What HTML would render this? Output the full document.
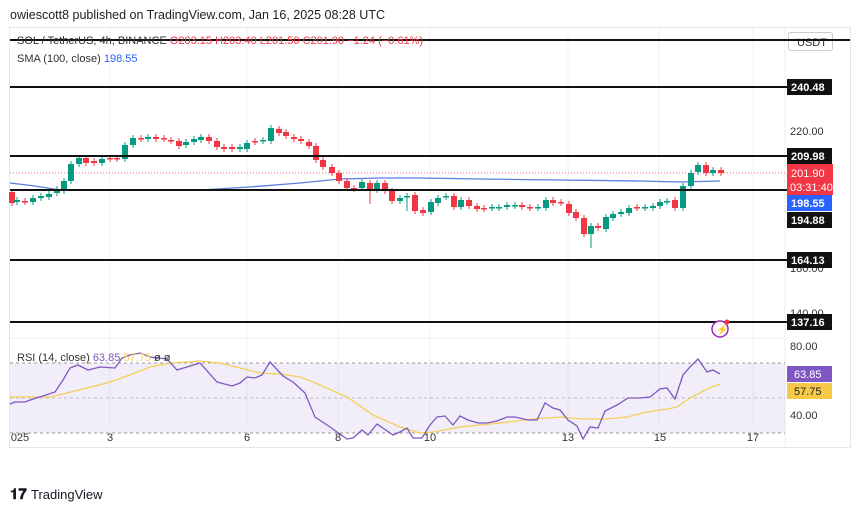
<!DOCTYPE html>
<html><head><meta charset="utf-8"><style>
body{margin:0;width:860px;height:510px;background:#fff;overflow:hidden;font-family:"Liberation Sans",sans-serif}
svg text{font-family:"Liberation Sans",sans-serif}
</style></head><body>
<svg id="s" width="860" height="510" xmlns="http://www.w3.org/2000/svg">
<rect width="860" height="510" fill="#fff"/>
<text x="10" y="19" font-size="12.5" fill="#222">owiescott8 published on TradingView.com, Jan 16, 2025 08:28 UTC</text>
<rect x="9.5" y="27.5" width="841" height="420" fill="none" stroke="#e6e6e6"/>
<line x1="785" y1="28" x2="785" y2="448" stroke="#eee"/>
<g stroke="#f0f0f0">
<line x1="110" y1="28" x2="110" y2="425"/><line x1="247" y1="28" x2="247" y2="425"/><line x1="338" y1="28" x2="338" y2="425"/><line x1="430" y1="28" x2="430" y2="425"/><line x1="568" y1="28" x2="568" y2="425"/><line x1="659" y1="28" x2="659" y2="425"/><line x1="753" y1="28" x2="753" y2="425"/>
<line x1="10" y1="338" x2="785" y2="338"/>
</g>
<!-- RSI pane -->
<rect x="10" y="363" width="775" height="70" fill="#7e57c2" fill-opacity="0.1"/>
<g stroke="#999" stroke-dasharray="3,3"><line x1="10" y1="363" x2="785" y2="363"/><line x1="10" y1="398" x2="785" y2="398" stroke-opacity="0.6"/><line x1="10" y1="433" x2="785" y2="433"/></g>
<polyline fill="none" stroke="#f5cf58" stroke-width="1.3" points="10,397 50,397 67,393 87,388 107,383 127,376 150,367 170,363 200,361 220,363 240,368 260,373 280,374 300,377 320,385 347,397 373,415 400,427 420,433 433,432 460,427 500,423 533,419 560,417 583,419 607,419 627,417 647,412 667,409 677,407 690,398 707,389 720,384"/>
<polyline fill="none" stroke="#7e57c2" stroke-width="1.3" points="10,404 15,402 25,402 33,399 43,396 55,392 63,380 70,368 78,365 88,370 100,367 115,368 122,358 130,355 140,353 150,357 167,359 177,370 200,363 217,382 232,386 240,383 247,377 255,378 262,375 270,362 283,376 293,382 305,393 315,417 330,427 347,439 353,438 362,430 368,435 377,424 393,435 400,432 407,428 413,438 422,438 430,425 437,417 445,416 453,425 460,416 468,420 478,423 487,423 497,421 507,417 515,417 528,420 537,420 545,403 553,408 560,410 568,420 577,426 583,439 590,427 598,428 605,411 617,405 628,398 640,398 650,397 660,389 667,388 675,399 683,375 690,367 698,359 707,372 713,370 720,374"/>
<text x="17" y="361" font-size="11" fill="#333">RSI (14, close) <tspan fill="#7e57c2">63.85</tspan> <tspan fill="#f5cf58">57.75</tspan> <tspan fill="#333">ø ø</tspan></text>
<text x="790" y="350" font-size="11" fill="#333">80.00</text>
<text x="790" y="419" font-size="11" fill="#333">40.00</text>
<rect x="787" y="366" width="45" height="16" fill="#7e57c2"/><text x="794" y="378" font-size="11" fill="#fff">63.85</text>
<rect x="787" y="383" width="45" height="16" fill="#f7c948"/><text x="794" y="395" font-size="11" fill="#222">57.75</text>
<!-- time axis -->
<g font-size="11" fill="#333" text-anchor="middle">
<text x="20" y="441">025</text><text x="110" y="441">3</text><text x="247" y="441">6</text><text x="338" y="441">8</text><text x="430" y="441">10</text><text x="568" y="441">13</text><text x="660" y="441">15</text><text x="753" y="441">17</text></g>
<!-- price axis -->
<rect x="788.5" y="32.5" width="44" height="18" rx="2" fill="#fff" stroke="#ccc"/>
<text x="797" y="46" font-size="11" fill="#333">USDT</text>
<text x="790" y="135" font-size="11" fill="#333">220.00</text>
<text x="790" y="272" font-size="11" fill="#333">180.00</text>
<text x="790" y="317" font-size="11" fill="#333">140.00</text>
<!-- SMA -->
<polyline fill="none" stroke="#5b7ee0" stroke-width="1.3" points="10,183 35,186 60,190 100,190 200,190 250,187 300,183 340,179 380,178 420,178 480,179 560,180 640,181 680,182 720,181"/>
<line x1="10" y1="173" x2="785" y2="173" stroke="#f23645" stroke-width="0.8" stroke-dasharray="1,2"/>
<g id="c"></g>
<!-- horizontal levels -->
<g stroke="#111" stroke-width="2">
<line x1="10" y1="40" x2="850" y2="40"/>
<line x1="10" y1="87" x2="787" y2="87"/>
<line x1="10" y1="156" x2="787" y2="156"/>
<line x1="10" y1="190" x2="787" y2="190"/>
<line x1="10" y1="260" x2="787" y2="260"/>
<line x1="10" y1="322" x2="787" y2="322"/>
</g>
<text x="17" y="44" font-size="11" fill="#333">SOL / TetherUS, 4h, BINANCE <tspan fill="#f23645">O203.15 H203.40 L201.50 C201.90 −1.24 (−0.61%)</tspan></text>
<text x="17" y="62" font-size="11" fill="#333">SMA (100, close) <tspan fill="#2962ff">198.55</tspan></text>
<g font-size="11" font-weight="bold" fill="#fff">
<rect x="787" y="79" width="45" height="16" fill="#111"/><text x="791" y="91">240.48</text>
<rect x="787" y="148" width="45" height="16" fill="#111"/><text x="791" y="160">209.98</text>
<rect x="787" y="164" width="46" height="31" fill="#f23645"/><text x="791" y="177" font-weight="normal">201.90</text><text x="790" y="191" font-weight="normal">03:31:40</text>
<rect x="787" y="195" width="45" height="16" fill="#2962ff"/><text x="791" y="207">198.55</text>
<rect x="787" y="212" width="45" height="16" fill="#111"/><text x="791" y="224">194.88</text>
<rect x="787" y="252" width="45" height="16" fill="#111"/><text x="791" y="264">164.13</text>
<rect x="787" y="314" width="45" height="16" fill="#111"/><text x="791" y="326">137.16</text>
</g>
<circle cx="720" cy="329" r="8" fill="#fff" stroke="#9c27b0" stroke-width="1.5"/>
<text x="716" y="333" font-size="10" fill="#9c27b0">⚡</text>
<circle cx="727" cy="322" r="2.5" fill="#f23645"/>
<text x="10" y="499" font-size="15" font-weight="bold" fill="#131722">𝟏𝟕</text>
<text x="31" y="499" font-size="13" fill="#131722">TradingView</text>
</svg>
<script>
var d=[[12,192,203,'r'],[17,200,202,'g'],[25,201,202,'r'],[33,198,202,'g'],[41,196,198,'g'],[49,194,197,'g'],[57,189,193,'g'],[64,181,191,'g'],[71,164,181,'g'],[79,158,164,'g'],[86,158,163,'r'],[94,161,163,'r'],[102,159,163,'g'],[110,158,159,'r'],[117,158,159,'r'],[125,145,159,'g'],[133,138,145,'g'],[141,138,139,'r'],[148,137,139,'g'],[156,137,139,'r'],[164,138,139,'r'],[171,140,141,'r'],[179,141,146,'r'],[186,142,145,'g'],[194,139,142,'g'],[201,137,140,'g'],[209,137,141,'r'],[217,141,147,'r'],[224,147,149,'r'],[232,147,149,'r'],[240,147,149,'g'],[247,143,149,'g'],[255,141,142,'r'],[263,140,141,'g'],[271,128,141,'g'],[279,129,133,'r'],[286,132,136,'r'],[294,137,139,'r'],[301,139,141,'r'],[309,142,146,'r'],[316,146,160,'r'],[323,160,167,'r'],[332,167,173,'r'],[339,173,181,'r'],[347,181,188,'r'],[354,188,189,'r'],[362,182,188,'g'],[370,183,191,'r'],[377,183,190,'g'],[385,183,191,'r'],[392,191,201,'r'],[400,198,201,'g'],[407,196,197,'g'],[415,195,211,'r'],[423,210,213,'r'],[431,202,212,'g'],[438,198,203,'g'],[446,196,197,'g'],[454,196,207,'r'],[461,200,207,'g'],[469,200,206,'r'],[477,206,209,'r'],[484,208,209,'r'],[492,207,208,'g'],[499,207,208,'g'],[507,205,207,'g'],[515,205,206,'g'],[522,205,207,'r'],[530,207,208,'r'],[538,207,208,'g'],[546,200,208,'g'],[553,200,203,'r'],[561,202,203,'r'],[569,204,213,'r'],[576,212,218,'r'],[584,218,234,'r'],[591,226,234,'g'],[598,226,228,'r'],[606,217,229,'g'],[613,214,218,'g'],[621,212,214,'g'],[629,208,213,'g'],[637,207,208,'r'],[645,207,208,'g'],[653,206,208,'g'],[660,202,206,'g'],[667,201,202,'g'],[675,200,208,'r'],[683,186,208,'g'],[691,173,186,'g'],[698,165,172,'g'],[706,165,173,'r'],[713,170,173,'g'],[721,170,173,'r']];
var h='';d.forEach(function(c){var col=c[3]=='g'?'#089981':'#f23645';var wt=c[1]-3,wb=c[2]+3;if(c[0]==370)wb=204;if(c[0]==407)wb=211;if(c[0]==591)wb=248;
h+='<line x1="'+c[0]+'" y1="'+wt+'" x2="'+c[0]+'" y2="'+wb+'" stroke="'+col+'" stroke-width="1"/>';
h+='<rect x="'+(c[0]-3)+'" y="'+c[1]+'" width="6" height="'+Math.max(1.5,c[2]-c[1])+'" fill="'+col+'"/>';});
document.getElementById('c').innerHTML=h;
</script>
</body></html>
